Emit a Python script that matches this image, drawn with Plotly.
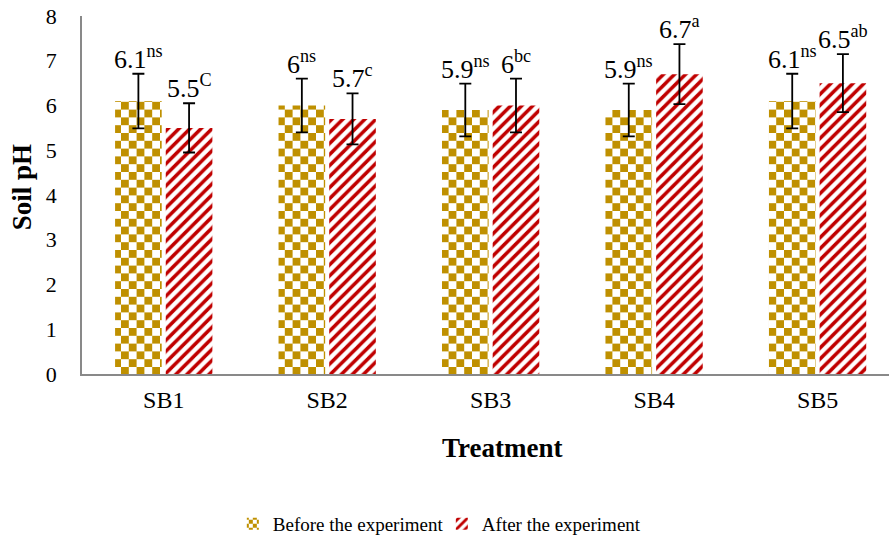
import plotly.graph_objects as go

categories = ["SB1", "SB2", "SB3", "SB4", "SB5"]
before_vals = [6.1, 6.0, 5.9, 5.9, 6.1]
after_vals = [5.5, 5.7, 6.0, 6.7, 6.5]
before_err = [0.61, 0.60, 0.59, 0.59, 0.61]
after_err = [0.55, 0.57, 0.60, 0.67, 0.65]
before_sig = ["ns", "ns", "ns", "ns", "ns"]
after_sig = ["C", "c", "bc", "a", "ab"]
y_ticks = [0, 1, 2, 3, 4, 5, 6, 7, 8]

GOLD = "#BF9000"
RED = "#C00000"
FONT = "Liberation Serif, Times New Roman, serif"

bargap = 0.38
bargroupgap = 0.08
slot = (1 - bargap) / 2

fig = go.Figure()
fig.add_trace(go.Bar(
    x=list(range(len(categories))), y=before_vals, name="Before the experiment",
    marker=dict(color=GOLD, line=dict(width=0),
                pattern=dict(shape="+", size=15.6, solidity=0.5, fgcolor=GOLD,
                             bgcolor="white", fillmode="replace")),
    error_y=dict(type="data", array=before_err, color="black", thickness=1.8, width=6),
))
fig.add_trace(go.Bar(
    x=list(range(len(categories))), y=after_vals, name="After the experiment",
    marker=dict(color=RED, line=dict(width=0),
                pattern=dict(shape="/", size=7.8, solidity=0.45, fgcolor=RED,
                             bgcolor="white", fillmode="replace")),
    error_y=dict(type="data", array=after_err, color="black", thickness=1.8, width=6),
))

def fmt(v):
    return ("%g" % v)

annotations = []
for i in range(len(categories)):
    for vals, errs, sig, off in ((before_vals, before_err, before_sig, -slot / 2),
                                 (after_vals, after_err, after_sig, slot / 2)):
        annotations.append(dict(
            x=i + off, y=vals[i] + errs[i], xref="x", yref="y",
            text=fmt(vals[i]) + "<sup>" + sig[i] + "</sup>",
            showarrow=False, yanchor="bottom", xanchor="center", yshift=-2,
            font=dict(family=FONT, size=26, color="black"),
        ))

# axis titles as annotations (positioned like the reference)
annotations.append(dict(
    text="<b>Treatment</b>", xref="paper", yref="paper", x=0.52, y=-0.207,
    xanchor="center", yanchor="middle", showarrow=False,
    font=dict(family=FONT, size=27, color="black"),
))
annotations.append(dict(
    text="<b>Soil pH</b>", xref="paper", yref="paper", x=-0.0743, y=0.522,
    xanchor="center", yanchor="middle", showarrow=False, textangle=-90,
    font=dict(family=FONT, size=27, color="black"),
))

fig.update_layout(
    width=889, height=548,
    margin=dict(l=82, r=0, t=16, b=174),
    paper_bgcolor="white", plot_bgcolor="white",
    barmode="group", bargap=bargap, bargroupgap=bargroupgap,
    font=dict(family=FONT, size=20, color="black"),
    showlegend=True,
    legend=dict(orientation="h", xref="container", yref="container",
                x=0.497, y=0.044, xanchor="center", yanchor="middle",
                font=dict(family=FONT, size=19, color="black"),
                itemwidth=30, tracegroupgap=0, entrywidth=164),
    annotations=annotations,
)
fig.update_xaxes(
    range=[-0.5, 4.437], tickmode="array", tickvals=list(range(len(categories))),
    ticktext=categories, showgrid=False, zeroline=False, showline=True,
    linecolor="#898989", linewidth=1.5, ticks="", ticklabelstandoff=3,
    tickfont=dict(family=FONT, size=24),
)
fig.update_yaxes(
    range=[0, 8], tickmode="array", tickvals=y_ticks, showgrid=False, zeroline=False,
    showline=True, linecolor="#898989", linewidth=1.5, ticks="", ticklabelstandoff=19,
    tickfont=dict(family=FONT, size=22),
)

post = """
document.body.style.margin = '0';
var gd = document.getElementById('{plot_id}');
function checker(){
  document.querySelectorAll('pattern').forEach(function(p){
    var path = p.querySelector('path');
    if(!path || path.getAttribute('data-chk')) return;
    var col = path.getAttribute('stroke') || path.style.stroke || '';
    var c = col.replace(/\\s/g, '');
    if(!(c.indexOf('191,144,0') >= 0 || c.toLowerCase() === '#bf9000')) return;
    var w = parseFloat(p.getAttribute('width'));
    var h = w / 2;
    path.setAttribute('d', 'M0,0H'+h+'V'+h+'H0ZM'+h+','+h+'H'+w+'V'+w+'H'+h+'Z');
    path.setAttribute('fill', col);
    path.setAttribute('stroke', 'none');
    path.style.stroke = 'none';
    path.style.fill = col;
    path.setAttribute('data-chk', '1');
  });
}
checker();
if (gd && gd.on) { gd.on('plotly_afterplot', checker); }
[50, 300, 1000].forEach(function(t){ setTimeout(checker, t); });
"""

fig.write_html("out.html", post_script=post, config={"displayModeBar": False})
